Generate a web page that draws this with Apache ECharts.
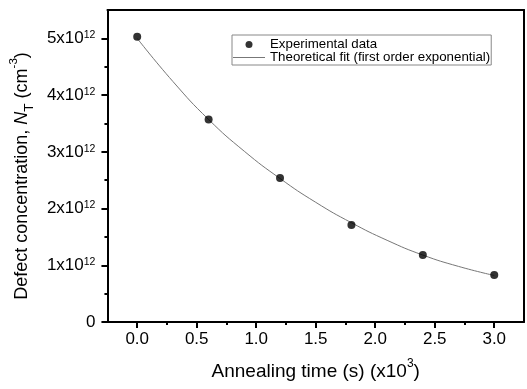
<!DOCTYPE html>
<html>
<head>
<meta charset="utf-8">
<script src="https://cdn.jsdelivr.net/npm/echarts@6/dist/echarts.min.js"></script>
<style>
html,body{margin:0;padding:0;background:#fff;}
#chart{width:527px;height:389px;}
</style>
</head>
<body>
<div id="chart"></div>
<script>
// Data (y in units of 1e12 cm^-3, x in units of 1e3 s)
var expX = [0.0, 0.6, 1.2, 1.8, 2.4, 3.0];
var expY = [5.03, 3.57, 2.54, 1.71, 1.18, 0.83];
var fitX = [0.0, 0.3, 0.6, 0.9, 1.2, 1.5, 1.8, 2.1, 2.4, 2.7, 3.0];
var fitY = [5.00, 4.24, 3.57, 3.01, 2.53, 2.11, 1.75, 1.44, 1.18, 0.98, 0.82];
var xMajorTicks = [0.0, 0.5, 1.0, 1.5, 2.0, 2.5, 3.0];
var xMinorTicks = [0.25, 0.75, 1.25, 1.75, 2.25, 2.75];
var yMajorTicks = [0, 1, 2, 3, 4, 5];
var yMinorTicks = [0.5, 1.5, 2.5, 3.5, 4.5];
var seriesNames = ['Experimental data', 'Theoretical fit (first order exponential)'];

var FONT = '"Liberation Sans", Arial, Helvetica, sans-serif';
var chart = echarts.init(document.getElementById('chart'));

function pairs(xs, ys) { return xs.map(function (x, i) { return [x, ys[i]]; }); }

var axisLineStyle = { color: '#000', width: 2 };

var option = {
  animation: false,
  backgroundColor: '#fff',
  textStyle: { fontFamily: FONT },
  grid: { left: 107, right: 3, top: 10, bottom: 67, containLabel: false },
  legend: {
    data: [
      { name: seriesNames[0] },
      { name: seriesNames[1], icon: 'path://M0,0 L32,0 L32,1 L0,1 Z' }
    ],
    orient: 'vertical',
    left: 232, top: 35,
    itemWidth: 32, itemHeight: 7, itemGap: 0,
    padding: [3, 1, 1, 1],
    borderColor: '#888', borderWidth: 1,
    textStyle: { fontFamily: FONT, fontSize: 13.3, lineHeight: 11, color: '#000' }
  },
  xAxis: [
    {
      type: 'value', min: -0.25, max: 3.25, position: 'bottom',
      axisLine: { show: true, onZero: false, lineStyle: axisLineStyle },
      axisTick: { show: true, inside: false, length: 6, customValues: xMajorTicks, lineStyle: { color: '#000', width: 2 } },
      axisLabel: {
        customValues: xMajorTicks, margin: 9, fontSize: 17, color: '#000', fontFamily: FONT,
        formatter: function (v) { return v.toFixed(1); }
      },
      splitLine: { show: false },
      name: '{n|Annealing time (s) (x10}{s|3}{n|)}',
      nameLocation: 'middle', nameGap: 36,
      nameTextStyle: {
        rich: {
          n: { fontSize: 19, lineHeight: 28, fontFamily: FONT, color: '#000' },
          s: { fontSize: 12, lineHeight: 10, fontFamily: FONT, color: '#000', verticalAlign: 'top' }
        }
      }
    },
    {
      type: 'value', min: -0.25, max: 3.25, position: 'bottom',
      axisLine: { show: false, onZero: false },
      axisTick: { show: true, inside: false, length: 3, customValues: xMinorTicks, lineStyle: { color: '#000', width: 2 } },
      axisLabel: { show: false },
      splitLine: { show: false }
    },
    {
      type: 'value', min: -0.25, max: 3.25, position: 'top',
      axisLine: { show: true, onZero: false, lineStyle: axisLineStyle },
      axisTick: { show: false }, axisLabel: { show: false }, splitLine: { show: false }
    }
  ],
  yAxis: [
    {
      type: 'value', min: 0, max: 5.5, position: 'left',
      axisLine: { show: true, onZero: false, lineStyle: axisLineStyle },
      axisTick: { show: true, inside: false, length: 6, customValues: yMajorTicks, lineStyle: { color: '#000', width: 2 } },
      axisLabel: {
        customValues: yMajorTicks, margin: 12, color: '#000', fontFamily: FONT,
        formatter: function (v) {
          if (v === 0) return '{n|0}';
          return '{n|' + v + 'x10}{s|12}';
        },
        rich: {
          n: { fontSize: 17, lineHeight: 17, fontFamily: FONT, color: '#000' },
          s: { fontSize: 10.5, lineHeight: 10, fontFamily: FONT, color: '#000', verticalAlign: 'top' }
        }
      },
      splitLine: { show: false },
      name: '{n|Defect concentration, }{i|N}{t|T}{n| (cm}{s|-3}{n|)}',
      nameLocation: 'middle', nameGap: 56,
      nameTextStyle: {
        padding: [0, 20, 0, 0],
        rich: {
          n: { fontSize: 18, lineHeight: 28, fontFamily: FONT, color: '#000' },
          i: { fontSize: 18, lineHeight: 28, fontFamily: FONT, color: '#000', fontStyle: 'italic' },
          t: { fontSize: 13.5, lineHeight: 16, fontFamily: FONT, color: '#000', verticalAlign: 'bottom' },
          s: { fontSize: 11.5, lineHeight: 10, fontFamily: FONT, color: '#000', verticalAlign: 'top' }
        }
      }
    },
    {
      type: 'value', min: 0, max: 5.5, position: 'left',
      axisLine: { show: false, onZero: false },
      axisTick: { show: true, inside: false, length: 3, customValues: yMinorTicks, lineStyle: { color: '#000', width: 2 } },
      axisLabel: { show: false },
      splitLine: { show: false }
    },
    {
      type: 'value', min: 0, max: 5.5, position: 'right',
      axisLine: { show: true, onZero: false, lineStyle: axisLineStyle },
      axisTick: { show: false }, axisLabel: { show: false }, splitLine: { show: false }
    }
  ],
  series: [
    {
      name: seriesNames[0], type: 'scatter', xAxisIndex: 0, yAxisIndex: 0,
      data: pairs(expX, expY), symbol: 'circle', symbolSize: 8,
      itemStyle: { color: '#000' }, z: 5
    },
    {
      name: seriesNames[1], type: 'line', xAxisIndex: 0, yAxisIndex: 0,
      data: pairs(fitX, fitY), smooth: true, symbol: 'none', showSymbol: false,
      lineStyle: { color: '#777', width: 1 }, itemStyle: { color: '#777' }, z: 3
    }
  ]
};
chart.setOption(option);
</script>
</body>
</html>
